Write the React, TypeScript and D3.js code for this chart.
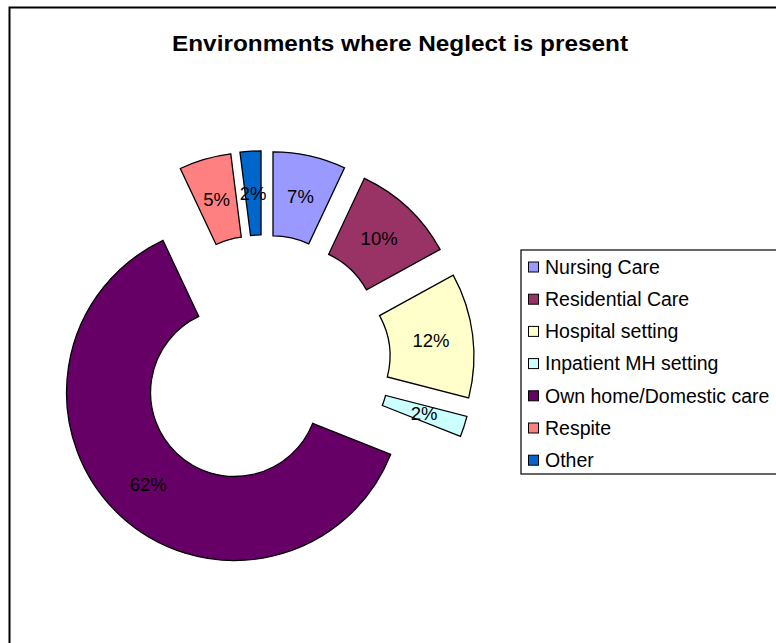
import React from "react";
import * as d3 from "d3";

const categories = [
  "Nursing Care",
  "Residential Care",
  "Hospital setting",
  "Inpatient MH setting",
  "Own home/Domestic care",
  "Respite",
  "Other",
];
const values = [7, 10, 12, 2, 62, 5, 2];
const colors = ["#9999FF", "#993366", "#FFFFCC", "#CCFFFF", "#660066", "#FF8080", "#0066CC"];
const title = "Environments where Neglect is present";

const W = 776;
const H = 643;
const cx = 263.7;
const cy = 361.4;
const outerR = 168;
const innerR = 84;
const explode = 42.6;

export default function App() {
  const total = d3.sum(values);
  const pie = d3.pie<number>().sort(null).value((d) => d)(values);
  const arc = d3.arc<d3.PieArcDatum<number>>().innerRadius(innerR).outerRadius(outerR);
  const legendX = 521;
  const legendY = 250;
  const rowH = 32.2;

  return (
    <svg width={W} height={H} style={{ position: "absolute", left: 0, top: 0, background: "#fff" }}>
      <rect x={9.5} y={7.5} width={W + 10} height={H + 10} fill="#fff" stroke="#000" strokeWidth={2} />
      <text
        x={400}
        y={51}
        textAnchor="middle"
        fontFamily="Liberation Sans, Arial, sans-serif"
        fontWeight="bold"
        fontSize={22}
        textLength={456}
        lengthAdjust="spacingAndGlyphs"
        fill="#000"
      >
        {title}
      </text>
      <g transform={`translate(${cx},${cy})`}>
        {pie.map((p, i) => {
          const mid = (p.startAngle + p.endAngle) / 2;
          const dx = Math.sin(mid) * explode;
          const dy = -Math.cos(mid) * explode;
          const [lx, ly] = arc.centroid(p);
          const pct = Math.round((values[i] / total) * 100) + "%";
          return (
            <g key={i} transform={`translate(${dx},${dy})`}>
              <path d={arc(p) || ""} fill={colors[i]} stroke="#000" strokeWidth={1.3} />
              <text
                x={lx}
                y={ly}
                dy="0.35em"
                textAnchor="middle"
                fontFamily="Liberation Sans, Arial, sans-serif"
                fontSize={18.5}
                fill="#000"
              >
                {pct}
              </text>
            </g>
          );
        })}
      </g>
      <rect x={legendX} y={legendY} width={W} height={224} fill="#fff" stroke="#000" strokeWidth={1.2} />
      {categories.map((c, i) => {
        const y = legendY + 17 + i * rowH;
        return (
          <g key={c}>
            <rect x={528.5} y={y - 5} width={10} height={10} fill={colors[i]} stroke="#000" strokeWidth={1} />
            <text
              x={545}
              y={y}
              dy="0.35em"
              fontFamily="Liberation Sans, Arial, sans-serif"
              fontSize={19.5}
              fill="#000"
            >
              {c}
            </text>
          </g>
        );
      })}
    </svg>
  );
}
